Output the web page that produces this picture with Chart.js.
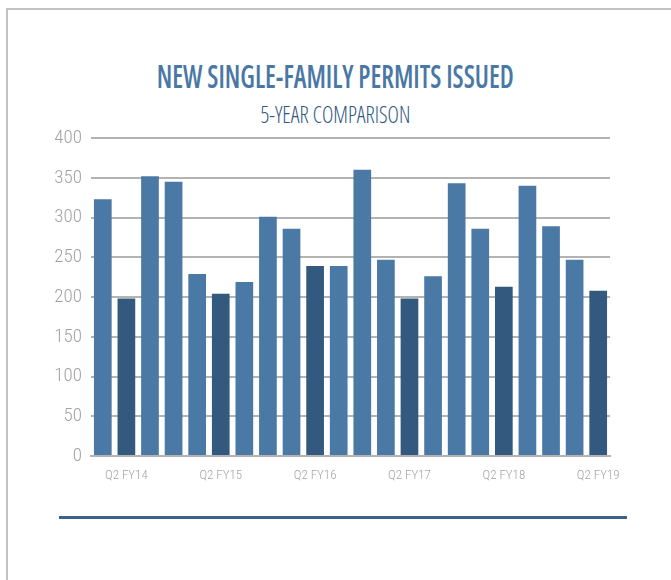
<!DOCTYPE html>
<html>
<head>
<meta charset="utf-8">
<script src="https://cdn.jsdelivr.net/npm/chart.js@4"></script>
<style>
  html, body { margin: 0; padding: 0; background: #fff; }
  #wrap { position: relative; width: 671px; height: 580px; overflow: hidden; }
  #frameTop { position: absolute; left: 6px; top: 8px; width: 665px; height: 2px; background: #c2c2c2; }
  #frameLeft { position: absolute; left: 6px; top: 8px; width: 2px; height: 572px; background: #c2c2c2; }
  .ttl { position: absolute; left: 0; width: 671px; text-align: center; font-family: "Open Sans", "Roboto Condensed", sans-serif; font-stretch: 75%; white-space: nowrap; }
  .ttl span { display: inline-block; transform-origin: center center; }
  #t1 { top: 56px; font-size: 32px; font-weight: 600; color: #4a78a5; line-height: 40px; }
  #t2 { top: 99px; font-size: 24px; font-weight: 300; color: #2f5880; line-height: 30px; }
  #rule { position: absolute; left: 59px; top: 516px; width: 568px; height: 3px; background: #3b6388; }
  #c { position: absolute; left: 0; top: 0; }
</style>
</head>
<body>
<div id="wrap">
  <div id="frameTop"></div>
  <div id="frameLeft"></div>
  <div class="ttl" id="t1"><span id="s1">NEW SINGLE-FAMILY PERMITS ISSUED</span></div>
  <div class="ttl" id="t2"><span id="s2">5-YEAR COMPARISON</span></div>
  <canvas id="c" width="671" height="580"></canvas>
  <div id="rule"></div>
</div>
<script>
const quarters = [
  'Q1 FY14','Q2 FY14','Q3 FY14','Q4 FY14',
  'Q1 FY15','Q2 FY15','Q3 FY15','Q4 FY15',
  'Q1 FY16','Q2 FY16','Q3 FY16','Q4 FY16',
  'Q1 FY17','Q2 FY17','Q3 FY17','Q4 FY17',
  'Q1 FY18','Q2 FY18','Q3 FY18','Q4 FY18',
  'Q1 FY19','Q2 FY19'
];
const permits = [
  323, 198, 352, 345,
  229, 204, 219, 301,
  286, 239, 239, 360,
  247, 198, 226, 343,
  286, 213, 340, 289,
  247, 208
];
const yTicks = [0, 50, 100, 150, 200, 250, 300, 350, 400];
const shownLabel = 'Q2';

const lightBlue = '#4a79a5';
const darkBlue = '#335a7e';
const barColors = quarters.map(q => q.startsWith(shownLabel) ? darkBlue : lightBlue);

function fitText(id, target) {
  const el = document.getElementById(id);
  const w = el.getBoundingClientRect().width;
  el.style.transform = 'scaleX(' + (target / w) + ')';
}

const gridColor = '#b3b3b3';
const tickFamily = '"Roboto Condensed", "Open Sans", sans-serif';

function build() {
  fitText('s1', 357);
  fitText('s2', 150);
  new Chart(document.getElementById('c'), {
    type: 'bar',
    data: {
      labels: quarters,
      datasets: [{
        data: permits,
        backgroundColor: barColors,
        borderWidth: 0,
        barPercentage: 0.75,
        categoryPercentage: 1.0
      }]
    },
    options: {
      responsive: false,
      animation: false,
      layout: { padding: { top: 138, right: 61, bottom: 94, left: 0 } },
      plugins: { legend: { display: false }, tooltip: { enabled: false }, title: { display: false } },
      scales: {
        x: {
          grid: { display: false, drawTicks: false },
          border: { display: true, color: gridColor, width: 2 },
          ticks: {
            autoSkip: false,
            maxRotation: 0,
            padding: 12,
            color: '#a3a3a3',
            font: { family: tickFamily, size: 13, weight: 300 },
            callback: function(v, i) { const l = quarters[i]; return l.startsWith(shownLabel) ? l : ''; }
          },
          afterFit: function(s) { s.height = 30; }
        },
        y: {
          min: 0, max: 400,
          afterBuildTicks: function(s) { s.ticks = yTicks.map(v => ({ value: v })); },
          grid: { color: gridColor, lineWidth: 2, drawTicks: false },
          border: { display: false },
          ticks: {
            padding: 9,
            color: '#a3a3a3',
            font: { family: tickFamily, size: 19, weight: 300 }
          },
          afterFit: function(s) { s.width = 91; }
        }
      }
    }
  });
}
if (document.fonts && document.fonts.load) {
  Promise.all([
    document.fonts.load('300 17px "Roboto Condensed"'),
    document.fonts.load('600 32px "Open Sans"'),
    document.fonts.load('300 24px "Open Sans"')
  ]).then(build, build);
} else { build(); }
</script>
</body>
</html>
